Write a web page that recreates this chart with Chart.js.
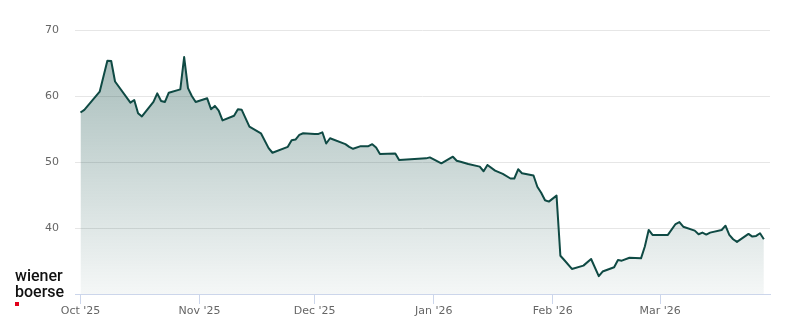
<!DOCTYPE html>
<html>
<head>
<meta charset="utf-8">
<script src="https://cdn.jsdelivr.net/npm/chart.js@4/dist/chart.umd.min.js"></script>
<style>
  html, body { margin: 0; padding: 0; background: #ffffff; }
  #wrap { position: relative; width: 800px; height: 324px; }
  canvas { display: block; }
</style>
</head>
<body>
<div id="wrap"><canvas id="c" width="800" height="324"></canvas></div>
<script>
// ---- data ----
const dates = [
  "2025-10-01","2025-10-02","2025-10-06","2025-10-08","2025-10-09","2025-10-10",
  "2025-10-14","2025-10-15","2025-10-16","2025-10-17","2025-10-20","2025-10-21",
  "2025-10-22","2025-10-23","2025-10-24","2025-10-27","2025-10-28","2025-10-29",
  "2025-10-30","2025-10-31","2025-11-03","2025-11-04","2025-11-05","2025-11-06",
  "2025-11-07","2025-11-10","2025-11-11","2025-11-12","2025-11-14","2025-11-17",
  "2025-11-19","2025-11-20","2025-11-24","2025-11-25","2025-11-26","2025-11-27",
  "2025-11-28","2025-12-01","2025-12-02","2025-12-03","2025-12-04","2025-12-05",
  "2025-12-09","2025-12-10","2025-12-11","2025-12-13","2025-12-15","2025-12-16",
  "2025-12-17","2025-12-18","2025-12-22","2025-12-23","2025-12-30","2025-12-31",
  "2026-01-03","2026-01-06","2026-01-07","2026-01-08","2026-01-10","2026-01-13",
  "2026-01-14","2026-01-15","2026-01-17","2026-01-19","2026-01-21","2026-01-22",
  "2026-01-23","2026-01-24","2026-01-27","2026-01-28","2026-01-29","2026-01-30",
  "2026-01-31","2026-02-02","2026-02-03","2026-02-04","2026-02-06","2026-02-09",
  "2026-02-11","2026-02-13","2026-02-14","2026-02-17","2026-02-18","2026-02-19",
  "2026-02-21","2026-02-24","2026-02-25","2026-02-26","2026-02-27","2026-03-03",
  "2026-03-05","2026-03-06","2026-03-07","2026-03-10","2026-03-11","2026-03-12",
  "2026-03-13","2026-03-14","2026-03-17","2026-03-18","2026-03-19","2026-03-20",
  "2026-03-21","2026-03-24","2026-03-25","2026-03-26","2026-03-27","2026-03-28"
];
const prices = [
  57.5, 57.9, 60.65, 65.35, 65.3, 62.2,
  59.0, 59.4, 57.4, 56.9, 59.1, 60.4,
  59.25, 59.1, 60.5, 61.0, 65.9, 61.2,
  60.0, 59.1, 59.65, 58.0, 58.5, 57.8,
  56.3, 57.0, 58.0, 57.9, 55.35, 54.35,
  52.1, 51.4, 52.3, 53.3, 53.4, 54.1,
  54.35, 54.25, 54.25, 54.5, 52.8, 53.6,
  52.7, 52.3, 52.0, 52.4, 52.4, 52.7,
  52.2, 51.2, 51.3, 50.3, 50.55, 50.7,
  49.8, 50.8, 50.2, 50.05, 49.7, 49.3,
  48.6, 49.55, 48.7, 48.2, 47.5, 47.5,
  48.9, 48.3, 47.95, 46.25, 45.35, 44.2,
  44.0, 44.9, 35.8, 35.15, 33.8, 34.3,
  35.3, 32.7, 33.4, 34.05, 35.15, 35.05,
  35.5, 35.4, 37.2, 39.7, 38.95, 38.95,
  40.6, 40.9, 40.2, 39.6, 39.05, 39.3,
  39.0, 39.3, 39.7, 40.35, 38.95, 38.3,
  37.9, 39.1, 38.7, 38.8, 39.2, 38.3
];
const tickDates = ["2025-10-01","2025-11-01","2025-12-01","2026-01-01","2026-02-01","2026-03-01"];
const tickLabels = ["Oct '25","Nov '25","Dec '25","Jan '26","Feb '26","Mar '26"];
const yTickValues = [40, 50, 60, 70];

// ---- helpers ----
const ORIGIN = Date.UTC(2025, 9, 1);
function dayOf(s) {
  const p = s.split("-").map(Number);
  return (Date.UTC(p[0], p[1] - 1, p[2]) - ORIGIN) / 86400000;
}
const points = dates.map((d, i) => ({ x: dayOf(d), y: prices[i] }));
const tickDays = tickDates.map(dayOf);

const LINE = "#0f4a44";

const logoPlugin = {
  id: "logo",
  afterDraw(chart) {
    const ctx = chart.ctx;
    ctx.save();
    ctx.fillStyle = "#111111";
    ctx.font = "500 16px Roboto, 'Liberation Sans', sans-serif";
    ctx.textBaseline = "alphabetic";
    ctx.textAlign = "left";
    ctx.fillText("wiener", 15, 281);
    ctx.fillText("boerse", 15, 297);
    ctx.fillStyle = "#e1001a";
    ctx.fillRect(15, 302, 4, 4);
    ctx.restore();
  }
};

new Chart(document.getElementById("c"), {
  type: "line",
  data: {
    datasets: [{
      data: points,
      borderColor: LINE,
      borderWidth: 2,
      borderJoinStyle: "round",
      tension: 0,
      pointRadius: 0,
      fill: "start",
      backgroundColor(ctx) {
        const ca = ctx.chart.chartArea;
        if (!ca) return "rgba(15,74,68,0.2)";
        const g = ctx.chart.ctx.createLinearGradient(0, ca.top, 0, ca.bottom);
        g.addColorStop(0, "rgba(15,74,68,0.40)");
        g.addColorStop(1, "rgba(15,74,68,0.045)");
        return g;
      }
    }]
  },
  options: {
    responsive: false,
    animation: false,
    devicePixelRatio: 1,
    layout: { padding: { left: 0, right: 30, top: 30, bottom: 0 } },
    plugins: { legend: { display: false }, tooltip: { enabled: false } },
    scales: {
      x: {
        type: "linear",
        min: -1.43,
        max: 179.6,
        afterBuildTicks(scale) { scale.ticks = tickDays.map(v => ({ value: v })); },
        afterFit(scale) { scale.height = 30; },
        grid: { drawOnChartArea: false, drawTicks: true, tickLength: 10, color: "#ccd6eb", lineWidth: 1 },
        border: { display: true, color: "#ccd6eb", width: 1 },
        ticks: {
          autoSkip: false,
          maxRotation: 0,
          padding: 1,
          color: "#666666",
          font: { family: "'DejaVu Sans'", size: 11 },
          callback(v) {
            const i = tickDays.indexOf(v);
            return i >= 0 ? tickLabels[i] : "";
          }
        }
      },
      y: {
        type: "linear",
        min: 30,
        max: 70,
        afterBuildTicks(scale) { scale.ticks = yTickValues.map(v => ({ value: v })); },
        afterFit(scale) { scale.width = 75; },
        grid: { drawTicks: false, color: "#e6e6e6", lineWidth: 1 },
        border: { display: false },
        ticks: {
          padding: 16,
          color: "#666666",
          font: { family: "'DejaVu Sans'", size: 11 },
          callback(v) { return String(v); }
        }
      }
    }
  },
  plugins: [logoPlugin]
});
</script>
</body>
</html>
